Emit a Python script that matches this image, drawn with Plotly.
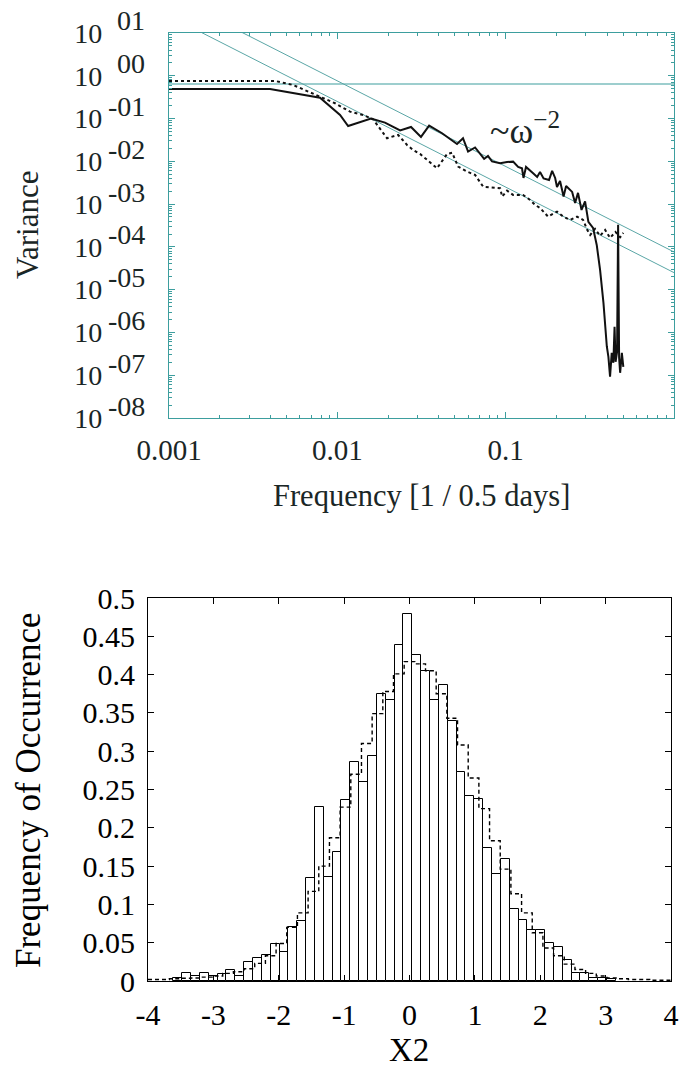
import numpy as np
import plotly.graph_objects as go

# ---------------- top panel: variance spectrum ----------------
freq_solid = [0.001, 0.00398, 0.00789, 0.01038, 0.01159, 0.01585, 0.01919, 0.0236, 0.0274, 0.0314,
              0.0351, 0.0419, 0.0514, 0.0558, 0.0598, 0.0658, 0.0745, 0.0785, 0.0830, 0.0927,
              0.1019, 0.1107, 0.1186, 0.125, 0.1276, 0.1321, 0.1456, 0.1538, 0.160, 0.168,
              0.181, 0.1888, 0.1968, 0.2018, 0.2104, 0.2208, 0.2286, 0.2483, 0.2585, 0.269,
              0.2823, 0.2963, 0.3100, 0.3304, 0.3475, 0.3638, 0.381, 0.399, 0.4077, 0.417,
              0.4266, 0.4362, 0.4435, 0.4497, 0.459, 0.4655, 0.472, 0.4786, 0.49, 0.50]
var_solid = [0.492, 0.492, 0.308, 0.121, 0.0671, 0.1005, 0.0802, 0.0527, 0.0637, 0.0372,
             0.0682, 0.0454, 0.0255, 0.0347, 0.01687, 0.0211, 0.01138, 0.01337, 0.00995, 0.00903,
             0.00968, 0.00984, 0.0074, 0.0069, 0.00409, 0.0074, 0.00527, 0.00432, 0.00565, 0.00398,
             0.00367, 0.00597, 0.00409, 0.00252, 0.00348, 0.00151, 0.00266, 0.00193, 0.001067, 0.00183,
             0.000731, 0.001156, 0.000384, 0.000278, 0.000111, 2.9e-5, 4.9e-6, 4.7e-7, 2.69e-7, 9.3e-8,
             3.33e-7, 1.95e-7, 1.35e-6, 2.06e-7, 3.52e-7, 3.27e-4, 2.55e-7, 1.14e-7, 3.33e-7, 1.57e-7]

freq_dot = [0.001, 0.00427, 0.00546, 0.00789, 0.00969, 0.01189, 0.01422, 0.0163, 0.01794, 0.01973,
            0.02296, 0.02596, 0.02818, 0.031, 0.0391, 0.0449, 0.0481, 0.0522, 0.059, 0.0658,
            0.0735, 0.0842, 0.0927, 0.0953, 0.1019, 0.1107, 0.1268, 0.1396, 0.1496, 0.160,
            0.1786, 0.2018, 0.22, 0.2415, 0.2654, 0.2884, 0.305, 0.3178, 0.3396, 0.3638,
            0.39, 0.417, 0.449, 0.4786, 0.5]
var_dot = [0.757, 0.757, 0.610, 0.325, 0.2277, 0.1449, 0.1213, 0.0964, 0.0593, 0.0347,
           0.0414, 0.02415, 0.01845, 0.0149, 0.0069, 0.0149, 0.01596, 0.00752, 0.00574, 0.00481,
           0.00256, 0.00248, 0.00235, 0.0015, 0.00207, 0.00164, 0.00164, 0.001253, 0.000957, 0.000815,
           0.00051, 0.000668, 0.00051, 0.000428, 0.00051, 0.000428, 0.00025, 0.00019, 0.000264, 0.000181,
           0.00025, 0.000162, 0.000224, 0.000168, 0.000212]

ref_freq = [0.001, 1.0]
ref_upper = [76.0, 7.6e-5]      # ~ omega^-2
ref_lower = [25.0, 2.5e-5]      # ~ omega^-2
ref_flat = [0.643, 0.643]

x_top_ticks = [0.001, 0.01, 0.1, 1]
x_top_text = ["0.001", "0.01", "0.1", "1"]
y_top_decades = [1, 0, -1, -2, -3, -4, -5, -6, -7, -8]
y_top_exps = ["01", "00", "-01", "-02", "-03", "-04", "-05", "-06", "-07", "-08"]

# ---------------- bottom panel: histogram ----------------
solid_bin_start = -3.613
solid_bin_width = 0.1354
solid_freq = [0.004, 0.010, 0.006, 0.010, 0.0065, 0.0085, 0.014, 0.006, 0.0245, 0.030,
              0.0345, 0.0485, 0.038, 0.070, 0.078, 0.134, 0.227, 0.136, 0.168, 0.236,
              0.286, 0.260, 0.294, 0.375, 0.367, 0.438, 0.479, 0.425, 0.405, 0.367,
              0.387, 0.340, 0.273, 0.241, 0.238, 0.174, 0.140, 0.159, 0.094, 0.080,
              0.066, 0.067, 0.049, 0.045, 0.027, 0.011, 0.011, 0.004, 0.004, 0.003]

dash_bin_start = -4.0
dash_bin_width = 8.0 / 49
dash_freq = [0.002, 0.002, 0.003, 0.0035, 0.004, 0.005, 0.0065, 0.010, 0.012, 0.016,
             0.023, 0.033, 0.049, 0.070, 0.089, 0.117, 0.150, 0.187, 0.227, 0.270,
             0.310, 0.349, 0.378, 0.401, 0.417, 0.414, 0.405, 0.375, 0.343, 0.308,
             0.265, 0.225, 0.183, 0.146, 0.114, 0.089,
             0.063, 0.043, 0.033, 0.022, 0.015, 0.010, 0.0065, 0.004, 0.003, 0.002, 0.002, 0.001, 0.001]

x_bot_ticks = [-4, -3, -2, -1, 0, 1, 2, 3, 4]
x_bot_text = ["-4", "-3", "-2", "-1", "0", "1", "2", "3", "4"]
y_bot_ticks = [0, 0.05, 0.1, 0.15, 0.2, 0.25, 0.3, 0.35, 0.4, 0.45, 0.5]
y_bot_text = ["0", "0.05", "0.1", "0.15", "0.2", "0.25", "0.3", "0.35", "0.4", "0.45", "0.5"]

# ---------------- figure ----------------
W, H = 681, 1072
FONT = "Liberation Serif"
TEAL = "#3d9e9e"
TXT_TOP = "#1a2626"

fig = go.Figure()

fig.add_trace(go.Scatter(x=ref_freq, y=ref_flat, mode="lines", line=dict(color=TEAL, width=1.2),
                         xaxis="x", yaxis="y", showlegend=False))
fig.add_trace(go.Scatter(x=ref_freq, y=ref_upper, mode="lines", line=dict(color="#5aa6a6", width=1),
                         xaxis="x", yaxis="y", showlegend=False))
fig.add_trace(go.Scatter(x=ref_freq, y=ref_lower, mode="lines", line=dict(color="#5aa6a6", width=1),
                         xaxis="x", yaxis="y", showlegend=False))
fig.add_trace(go.Scatter(x=freq_dot, y=var_dot, mode="lines", line=dict(color="#111", width=2, dash="dot"),
                         xaxis="x", yaxis="y", showlegend=False))
fig.add_trace(go.Scatter(x=freq_solid, y=var_solid, mode="lines", line=dict(color="#111", width=2),
                         xaxis="x", yaxis="y", showlegend=False))

centers = solid_bin_start + solid_bin_width * (np.arange(len(solid_freq)) + 0.5)
fig.add_trace(go.Bar(x=centers, y=solid_freq, width=solid_bin_width,
                     marker=dict(color="white", line=dict(color="black", width=1)),
                     xaxis="x2", yaxis="y2", showlegend=False))
edges = dash_bin_start + dash_bin_width * np.arange(len(dash_freq) + 1)
fig.add_trace(go.Scatter(x=edges, y=list(dash_freq) + [dash_freq[-1]], mode="lines",
                         line=dict(color="black", width=1.4, dash="4px,3px", shape="hv"),
                         xaxis="x2", yaxis="y2", showlegend=False))

# domains from pixel geometry
xt = [169 / W, 674 / W]
yt = [1 - 418 / H, 1 - 33 / H]
xb = [148 / W, 671 / W]
yb = [1 - 981 / H, 1 - 598 / H]

y_top_ticks = [10.0 ** d for d in y_top_decades]

common = dict(showgrid=False, zeroline=False, automargin=False, showline=True, mirror="ticks",
              ticks="inside")

annotations = [
    dict(text="Variance", x=28 / W, y=1 - 225 / H, xref="paper", yref="paper",
         textangle=-90, showarrow=False, font=dict(size=31, color=TXT_TOP),
         xanchor="center", yanchor="middle"),
    dict(text="Frequency [1 / 0.5 days]", x=421 / W, y=1 - 496 / H, xref="paper", yref="paper",
         showarrow=False, font=dict(size=30.5, color=TXT_TOP), xanchor="center", yanchor="middle"),
    dict(text="~ω<sup>−2</sup>", x=np.log10(0.130), y=np.log10(0.058),
         xref="x", yref="y", showarrow=False, font=dict(size=36, color=TXT_TOP),
         xanchor="center", yanchor="middle"),
    dict(text="Frequency of Occurrence", x=28 / W, y=1 - 790 / H, xref="paper", yref="paper",
         textangle=-90, showarrow=False, font=dict(size=35, color="black"),
         xanchor="center", yanchor="middle"),
    dict(text="X2", x=409 / W, y=1 - 1050 / H, xref="paper", yref="paper",
         showarrow=False, font=dict(size=33, color="black"), xanchor="center", yanchor="middle"),
]
# exponent parts of the "10^NN" tick labels (gnuplot style, full-size raised exponents)
for d, e in zip(y_top_decades, y_top_exps):
    annotations.append(dict(text=e, x=146 / W, y=d, xref="paper", yref="y", yshift=12,
                            showarrow=False, font=dict(size=28, color=TXT_TOP),
                            xanchor="right", yanchor="middle", borderpad=0))

fig.update_layout(
    template="none",
    width=W, height=H,
    margin=dict(l=0, r=0, t=0, b=0, autoexpand=False),
    paper_bgcolor="white", plot_bgcolor="white",
    font=dict(family=FONT, color="black"),
    bargap=0, showlegend=False,
    xaxis=dict(domain=xt, type="log", range=[-3, 0], anchor="y",
               tickvals=x_top_ticks, ticktext=x_top_text,
               ticklen=6, tickcolor=TEAL, tickwidth=1, linecolor=TEAL, linewidth=1.2,
               minor=dict(ticks="inside", ticklen=3, tickcolor=TEAL, dtick="D1", showgrid=False),
               tickfont=dict(size=29, color=TXT_TOP), ticklabelstandoff=6, **common),
    yaxis=dict(domain=yt, type="log", range=[-8, 1], anchor="x",
               tickvals=y_top_ticks, ticktext=["10"] * len(y_top_ticks),
               ticklen=6, tickcolor=TEAL, tickwidth=1, linecolor=TEAL, linewidth=1.2,
               minor=dict(ticks="inside", ticklen=3, tickcolor=TEAL, dtick="D1", showgrid=False),
               tickfont=dict(size=28, color=TXT_TOP), ticklabelstandoff=60, **common),
    xaxis2=dict(domain=xb, range=[-4, 4], anchor="y2",
                tickvals=x_bot_ticks, ticktext=x_bot_text,
                ticklen=6, tickcolor="black", tickwidth=1, linecolor="black", linewidth=1,
                tickfont=dict(size=30, color="black"), ticklabelstandoff=7, **common),
    yaxis2=dict(domain=yb, range=[0, 0.5], anchor="x2",
                tickvals=y_bot_ticks, ticktext=y_bot_text,
                ticklen=6, tickcolor="black", tickwidth=1, linecolor="black", linewidth=1,
                tickfont=dict(size=30, color="black"), ticklabelstandoff=6, **common),
    annotations=annotations,
)

fig.write_html("out.html")
